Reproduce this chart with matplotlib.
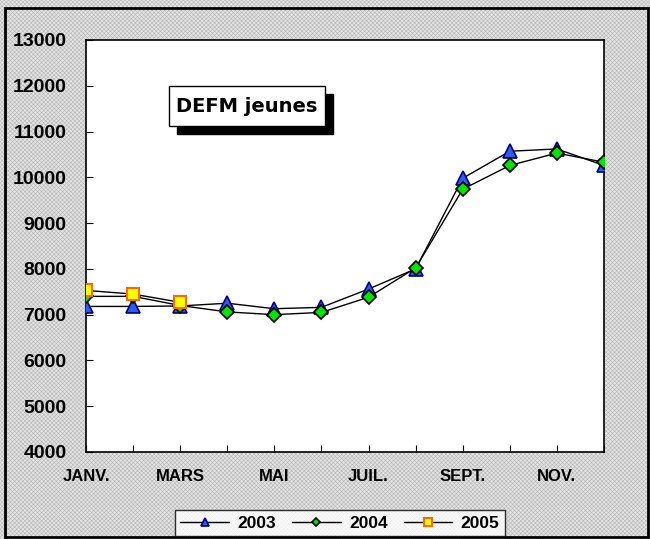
import matplotlib
matplotlib.use("Agg")
import matplotlib.pyplot as plt
from matplotlib.patches import Rectangle

# ---- data ----
months = ["JANV.", "FEV.", "MARS", "AVR.", "MAI", "JUIN",
          "JUIL.", "AOUT", "SEPT.", "OCT.", "NOV.", "DEC."]
v2003 = [7180, 7180, 7190, 7250, 7130, 7160, 7560, 8000, 9980, 10570, 10620, 10260]
v2004 = [7400, 7400, 7200, 7060, 7000, 7050, 7380, 8020, 9740, 10260, 10530, 10330]
v2005 = [7530, 7450, 7270]
yticks = list(range(4000, 13001, 1000))

W, H = 650, 539
plt.rcParams["font.family"] = ["Liberation Sans", "DejaVu Sans"]
plt.rcParams["hatch.linewidth"] = 0.4

fig = plt.figure(figsize=(W / 100, H / 100), dpi=100)
fig.patch.set_facecolor("white")


def fx(x):
    return x / W


def fy(y):
    return 1 - y / H


# hatched grey background + outer border
fig.patches.append(Rectangle((0, 0), 1, 1, transform=fig.transFigure,
                             facecolor="#e4e4e4", edgecolor="#b4b4b4",
                             hatch="xxxxxxxx", lw=0, zorder=-10))
fig.patches.append(Rectangle((fx(5), fy(537)), fx(648) - fx(5), fy(8) - fy(537),
                             transform=fig.transFigure, fill=False,
                             edgecolor="black", lw=2, zorder=-5))

ax = fig.add_axes([fx(86), fy(452), fx(604) - fx(86), fy(40) - fy(452)])
ax.set_facecolor("white")

x = list(range(len(months)))
ax.plot(x, v2003, color="black", lw=1, marker="^", ms=10,
        mfc="#2f5cf0", mec="#00007a", mew=1.2, label="2003", zorder=3)
ax.plot(x, v2004, color="black", lw=1, marker="D", ms=7,
        mfc="#00e600", mec="black", mew=1.2, label="2004", zorder=4)
ax.plot(x[:len(v2005)], v2005, color="black", lw=1, marker="s", ms=9,
        mfc="#ffff00", mec="#ff6a00", mew=1.5, label="2005", zorder=5)

ax.set_xlim(0, 11)
ax.set_ylim(4000, 13000)
ax.set_yticks(yticks)
ax.set_yticklabels([str(v) for v in yticks], fontsize=14, fontweight="bold")
ax.set_xticks(x)
ax.set_xticklabels([m if i % 2 == 0 else "" for i, m in enumerate(months)],
                   fontsize=12, fontweight="bold")
ax.tick_params(axis="y", direction="in", length=5, pad=14, width=0.8)
ax.tick_params(axis="x", direction="in", length=5, pad=12, width=0.8)
for s in ax.spines.values():
    s.set_linewidth(1.2)

# title box with drop shadow
bx0, by0, bx1, by1 = 169, 86, 325, 126
fig.patches.append(Rectangle((fx(bx0 + 8), fy(by1 + 8)), fx(bx1) - fx(bx0), fy(by0) - fy(by1),
                             transform=fig.transFigure, facecolor="black",
                             edgecolor="black", lw=1, zorder=10))
fig.patches.append(Rectangle((fx(bx0), fy(by1)), fx(bx1) - fx(bx0), fy(by0) - fy(by1),
                             transform=fig.transFigure, facecolor="white",
                             edgecolor="black", lw=1, zorder=11))
fig.text(fx((bx0 + bx1) / 2), fy((by0 + by1) / 2), "DEFM jeunes",
         ha="center", va="center", fontsize=14, fontweight="bold",
         family=["DejaVu Sans"], zorder=12)

leg = fig.legend(loc="center", bbox_to_anchor=(fx(340), fy(523)), ncol=3,
                 prop={"weight": "bold", "size": 12.5},
                 frameon=True, fancybox=False, edgecolor="black",
                 handlelength=2.8, markerscale=0.6, columnspacing=0.9,
                 handletextpad=0.5, borderpad=0.3)
leg.get_frame().set_linewidth(1)

fig.savefig("out.png", dpi=100)
